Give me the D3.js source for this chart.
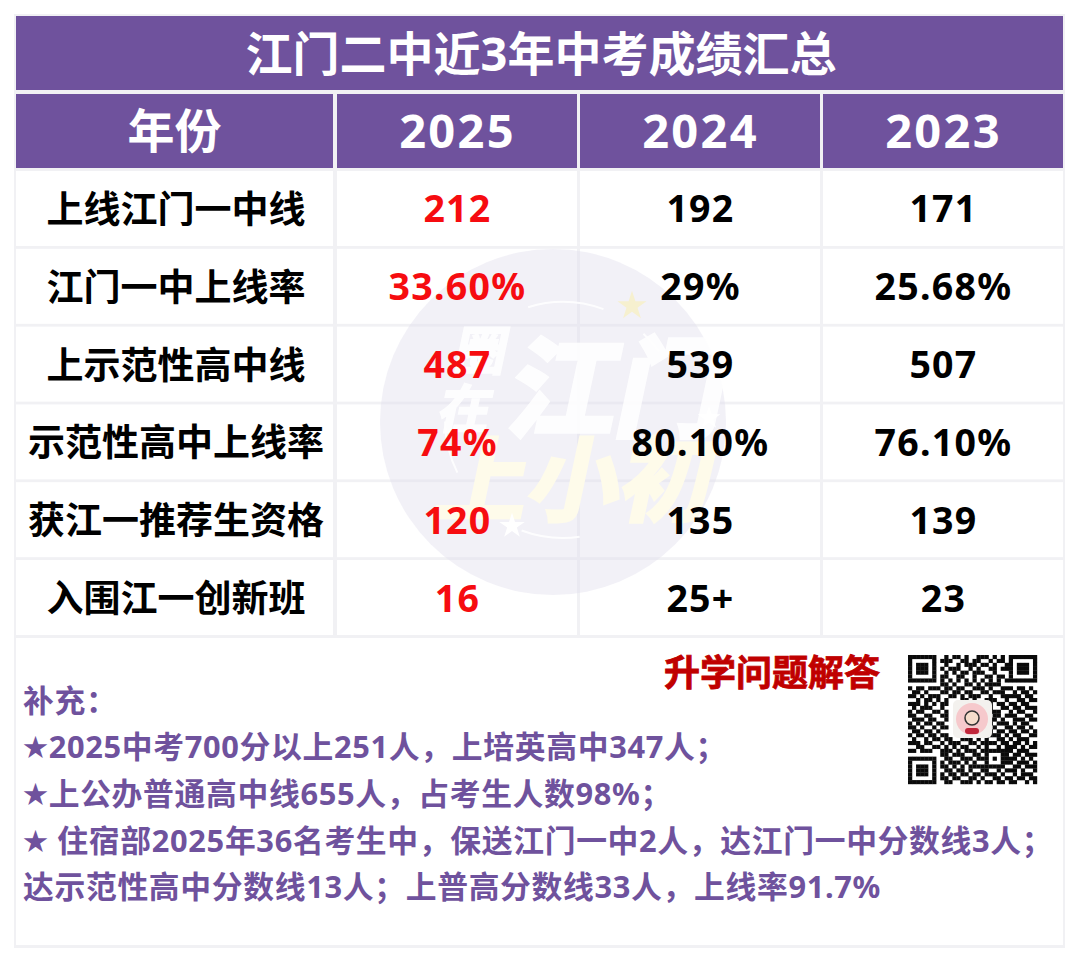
<!DOCTYPE html>
<html>
<head>
<meta charset="utf-8">
<script src="https://cdn.jsdelivr.net/npm/d3@7"></script>
<style>
  html, body { margin: 0; padding: 0; background: #fff; }
  text { font-family: "Noto Sans", "Noto Sans CJK SC", sans-serif; font-weight: 700; }
</style>
</head>
<body>
<svg id="chart" width="1080" height="963"></svg>
<script>
// table content
const title = "江门二中近3年中考成绩汇总";
const headerLabel = "年份";
const years = ["2025", "2024", "2023"];
const rowLabels = ["上线江门一中线", "江门一中上线率", "上示范性高中线", "示范性高中上线率", "获江一推荐生资格", "入围江一创新班"];
const values2025 = ["212", "33.60%", "487", "74%", "120", "16"];
const values2024 = ["192", "29%", "539", "80.10%", "135", "25+"];
const values2023 = ["171", "25.68%", "507", "76.10%", "139", "23"];
const notes = [
    "补充：",
    "★2025中考700分以上251人，上培英高中347人；",
    "★上公办普通高中线655人，占考生人数98%；",
    "★ 住宿部2025年36名考生中，保送江门一中2人，达江门一中分数线3人；",
    "达示范性高中分数线13人；上普高分数线33人，上线率91.7%"
];
const qrLabel = "升学问题解答";
// QR pattern read by eye
const qrRows = [
    "1111111001011010011101010 1111111",
    "1000001011100110110010110 1000001",
    "1011101001001011101101001 1011101",
    "1011101010111001010011011 1011101",
    "1011101001010110111001000 1011101",
    "1000001011001100100110110 1000001",
    "1111111010101010101010101 1111111",
    "0000000011010011010111100 0000000",
    "1011011101101100111010011 1011010",
    "0110100011011011001101110 0101101",
    "1101011100110101110010011 1110110",
    "0010110101000110100111001 0011011",
    "1110101011000000000110110 1101100",
    "0101110010000000000010011 0110111",
    "1011001101000000000011100 1011001",
    "1100110011000000000001101 1100110",
    "0111011001000000000011010 0111011",
    "1010110110000000000010111 0101100",
    "1101001011000000000001001 1011010",
    "0110110100000000000110110 1101101",
    "1011011011000000000011101 0110011",
    "0100101101100111010100110 1011100",
    "1110110010111001101111011 0110101",
    "0011001101010110010100101 1101011",
    "1101110011101011101111111 1011100",
    "0000000011011100110100011 0110111",
    "1111111001100111011101011 1101010",
    "1000001010111010100100011 1011101",
    "1011101011010101111111110 0110111",
    "1011101001101101001100101 1101001",
    "1011101010110110110111010 0101110",
    "1000001011011001101001101 1011011",
    "1111111001100111010110110 1100101"
].map(r => r.replace(" ", ""));

const svg = d3.select("#chart");
const purple = "#6f529d";

// column and row scales
const labelCol = { x: 16, w: 317 };
const x = d3.scaleBand().domain(years).range([337, 1063]).paddingInner(3 / 243).paddingOuter(0);
const y = d3.scaleBand().domain(rowLabels).range([171, 635]).paddingInner(0.036).paddingOuter(0);

// backing plate that shows through as the light grid lines
svg.append("rect").attr("x", 14).attr("y", 14).attr("width", 1051).attr("height", 934).attr("fill", "#f1f1f4");

// title and header bands
svg.append("rect").attr("x", 16).attr("y", 16).attr("width", 1047).attr("height", 74).attr("fill", purple);
svg.append("text").attr("x", 541).attr("y", 53).attr("text-anchor", "middle").attr("dominant-baseline", "central")
    .attr("fill", "#fff").attr("font-size", 47).text(title);

const headerY = 94, headerH = 74;
svg.append("rect").attr("x", labelCol.x).attr("y", headerY).attr("width", labelCol.w).attr("height", headerH).attr("fill", purple);
svg.append("text").attr("x", labelCol.x + labelCol.w / 2).attr("y", headerY + 36).attr("text-anchor", "middle")
    .attr("dominant-baseline", "central").attr("fill", "#fff").attr("font-size", 47).text(headerLabel);

svg.selectAll("rect.year").data(years).join("rect").attr("class", "year")
    .attr("x", d => x(d)).attr("y", headerY).attr("width", x.bandwidth()).attr("height", headerH).attr("fill", purple);
svg.selectAll("text.year").data(years).join("text").attr("class", "year")
    .attr("x", d => x(d) + x.bandwidth() / 2 + 0.5).attr("y", headerY + 35.5).attr("text-anchor", "middle")
    .attr("dominant-baseline", "central").attr("fill", "#fff").attr("font-size", 47).attr("letter-spacing", 2.3).text(d => d);

// body cells
svg.selectAll("rect.label").data(rowLabels).join("rect").attr("class", "label")
    .attr("x", labelCol.x).attr("y", d => y(d)).attr("width", labelCol.w).attr("height", y.bandwidth()).attr("fill", "#fff");
years.forEach(year => {
    svg.selectAll("rect.c" + year).data(rowLabels).join("rect").attr("class", "c" + year)
        .attr("x", x(year)).attr("y", d => y(d)).attr("width", x.bandwidth()).attr("height", y.bandwidth()).attr("fill", "#fff");
});

// footer panel
svg.append("rect").attr("x", 16).attr("y", 638).attr("width", 1047).attr("height", 307).attr("fill", "#fff");

// watermark sits over the cells, under the text
const wm = svg.append("g");
wm.append("circle").attr("cx", 553).attr("cy", 422).attr("r", 173).attr("fill", "#e2e0ee").attr("opacity", 0.45);
const wmArc = d3.arc().innerRadius(117).outerRadius(119);
[[-0.3, 0.35], [0.75, 0.95], [3.0, 3.5], [4.25, 4.7]].forEach(a => {
    wm.append("path").attr("transform", "translate(563,420)")
        .attr("d", wmArc({ startAngle: a[0], endAngle: a[1] })).attr("fill", "#fff").attr("opacity", 0.85);
});
wm.append("text").attr("transform", "translate(612,428) skewX(-12)").attr("fill", "#fff").attr("stroke", "#fff").attr("stroke-width", 5).attr("opacity", 0.88)
    .attr("font-size", 108).attr("text-anchor", "middle").text("江门");
wm.append("text").attr("transform", "translate(478,370) skewX(-12)").attr("fill", "#fff").attr("stroke", "#fff").attr("stroke-width", 2).attr("opacity", 0.88)
    .attr("font-size", 52).attr("text-anchor", "middle").text("圈");
wm.append("text").attr("transform", "translate(462,428) skewX(-12)").attr("fill", "#fff").attr("stroke", "#fff").attr("stroke-width", 2).attr("opacity", 0.88)
    .attr("font-size", 52).attr("text-anchor", "middle").text("在");
wm.append("text").attr("transform", "translate(570,514) skewX(-12)").attr("fill", "#fefbea").attr("stroke", "#fefbea").attr("stroke-width", 3)
    .attr("font-size", 92).attr("text-anchor", "middle").text("上小初");
// little sparkles, as shapes so they stay out of the lettering
const sparkle = d3.symbol().type(d3.symbolStar);
wm.append("path").attr("transform", "translate(632,306)").attr("d", sparkle.size(260)()).attr("fill", "#f6f0cf");
wm.append("path").attr("transform", "translate(512,526)").attr("d", sparkle.size(200)()).attr("fill", "#fff");
wm.append("path").attr("transform", "translate(709,418)").attr("d", sparkle.size(160)()).attr("fill", "#fff");

// cell text
svg.selectAll("text.label").data(rowLabels).join("text").attr("class", "label")
    .attr("x", labelCol.x + labelCol.w / 2 + 1.5).attr("y", d => y(d) + y.bandwidth() / 2)
    .attr("text-anchor", "middle").attr("dominant-baseline", "central").attr("fill", "#000")
    .attr("font-size", 37).text(d => d);

const columns = [values2025, values2024, values2023];
years.forEach((year, i) => {
    svg.selectAll("text.v" + year).data(columns[i]).join("text").attr("class", "v" + year)
        .attr("x", x(year) + x.bandwidth() / 2 + 0.5).attr("y", (d, j) => y(rowLabels[j]) + y.bandwidth() / 2 - 0.5)
        .attr("text-anchor", "middle").attr("dominant-baseline", "central")
        .attr("fill", i === 0 ? "#f60c10" : "#000").attr("font-size", 37.5).attr("letter-spacing", 1.3).text(d => d);
});

// notes, the star glyph is set a bit smaller than the text
const noteLineY = [700, 746, 793, 840, 886];
const noteText = svg.selectAll("text.note").data(notes).join("text").attr("class", "note")
    .attr("x", 23).attr("y", (d, i) => noteLineY[i]).attr("dominant-baseline", "central")
    .attr("fill", purple).attr("font-size", 30.8).attr("letter-spacing", 0.67);
noteText.append("tspan").attr("font-size", 25).text(d => d.startsWith("★") ? "★" : "");
noteText.append("tspan").text(d => d.replace("★", ""));

// QR block
svg.append("text").attr("x", 772).attr("y", 672).attr("text-anchor", "middle").attr("dominant-baseline", "central")
    .attr("fill", "#c00000").attr("font-size", 36).attr("stroke", "#c00000").attr("stroke-width", 0.8).text(qrLabel);

const qx = d3.scaleBand().domain(d3.range(qrRows[0].length)).range([908, 1037]);
const qy = d3.scaleBand().domain(d3.range(qrRows.length)).range([655, 784]);
const qrCells = qrRows.flatMap((row, r) => row.split("").map((c, col) => ({ r, col, on: c === "1" }))).filter(d => d.on);
svg.append("g").selectAll("rect").data(qrCells).join("rect")
    .attr("x", d => qx(d.col)).attr("y", d => qy(d.r)).attr("width", qx.bandwidth() + 0.2).attr("height", qy.bandwidth() + 0.2).attr("fill", "#0a0a0a");

// QR logo
const logo = svg.append("g");
logo.append("rect").attr("x", 953).attr("y", 700).attr("width", 39).attr("height", 38).attr("rx", 5).attr("fill", "#f3f1ee");
logo.append("circle").attr("cx", 972).attr("cy", 719).attr("r", 16).attr("fill", "#f6c9cc");
logo.append("circle").attr("cx", 972).attr("cy", 718).attr("r", 7).attr("fill", "#f5dccb").attr("stroke", "#333").attr("stroke-width", 1.5);
logo.append("rect").attr("x", 965).attr("y", 728).attr("width", 14).attr("height", 6).attr("rx", 3).attr("fill", "#c0263a");
</script>
</body>
</html>
